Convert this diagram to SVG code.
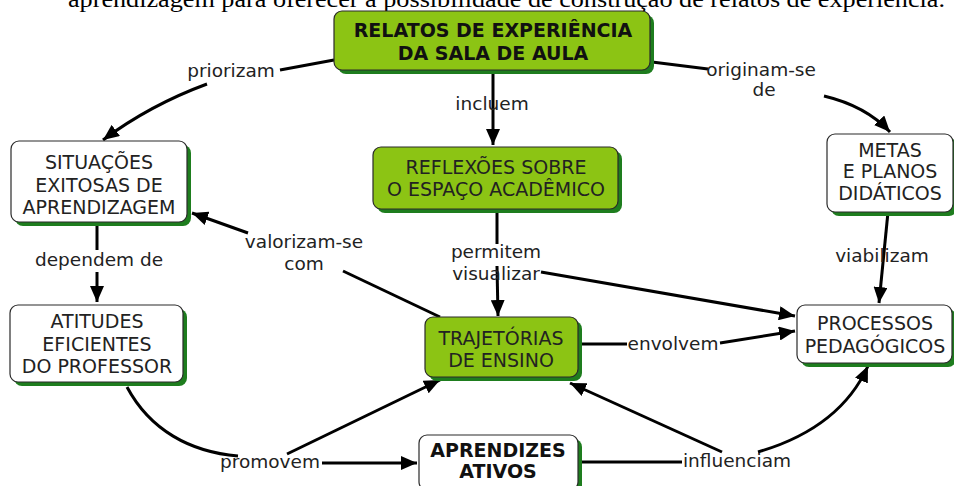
<svg xmlns="http://www.w3.org/2000/svg" width="954" height="486" viewBox="0 0 954 486">
<defs>
<style>
.shadow{fill:#1e7d1e}
.g{fill:#8cc414;stroke:#2a2a2a;stroke-width:1.2}
.w{fill:#ffffff;stroke:#2a2a2a;stroke-width:1.2}
.t{font-family:"DejaVu Sans",Verdana,sans-serif;font-size:19px;fill:#222;text-anchor:middle}
.b{font-family:"DejaVu Sans",Verdana,sans-serif;font-size:19px;font-weight:bold;fill:#111;text-anchor:middle}
.lbl{font-family:"DejaVu Sans",Verdana,sans-serif;font-size:18.5px;fill:#222;text-anchor:middle}
.c{fill:none;stroke:#000;stroke-width:3}
.a{marker-end:url(#arr)}
</style>
<marker id="arr" markerUnits="userSpaceOnUse" viewBox="0 0 16 14" markerWidth="16" markerHeight="14" refX="16" refY="7" orient="auto">
<path d="M0,0 L16,7 L0,14 z" fill="#000"/>
</marker>
</defs>
<rect width="954" height="486" fill="#fff"/>
<text x="68" y="7" font-family="'Liberation Serif','Times New Roman',serif" font-size="24" fill="#000" textLength="877" lengthAdjust="spacingAndGlyphs">aprendizagem para oferecer a possibilidade de construção de relatos de experiência.</text>

<g id="connectors">
<path class="c" d="M334,60 L280,70"/>
<path class="c a" d="M207,84 Q150,105 103,140"/>
<path class="c a" d="M493,70 L493,145"/>
<path class="c" d="M652,62 L708,69"/>
<path class="c a" d="M824,96 Q866,106 890,132"/>
<path class="c" d="M97,222 L97,250"/>
<path class="c a" d="M97,272 L97,302"/>
<path class="c" d="M497,210 L497,244"/>
<path class="c a" d="M497,266 L498,316"/>
<path class="c a" d="M541,272 L795,316"/>
<path class="c a" d="M248,233 L192,213"/>
<path class="c" d="M343,271 L440,317"/>
<path class="c" d="M578,344 L627,344"/>
<path class="c a" d="M720,343 L795,331"/>
<path class="c a" d="M888,212 L879,303"/>
<path class="c" d="M127,387 C150,430 190,452 238,456"/>
<path class="c a" d="M322,463 L417,463"/>
<path class="c a" d="M287,454 L440,380"/>
<path class="c" d="M578,462 L682,462"/>
<path class="c a" d="M722,452 L570,383"/>
<path class="c a" d="M758,452 Q840,428 868,366"/>
<text class="lbl" x="231" y="77">priorizam</text>
<text class="lbl" x="492" y="110">incluem</text>
<text class="lbl" x="761" y="76">originam-se</text>
<text class="lbl" x="764" y="96">de</text>
<text class="lbl" x="99" y="266">dependem de</text>
<text class="lbl" x="304" y="248">valorizam-se</text>
<text class="lbl" x="304" y="270">com</text>
<text class="lbl" x="496" y="258">permitem</text>
<text class="lbl" x="496" y="280">visualizar</text>
<text class="lbl" x="882" y="262">viabilizam</text>
<text class="lbl" x="673" y="350">envolvem</text>
<text class="lbl" x="270" y="468">promovem</text>
<text class="lbl" x="737" y="467">influenciam</text>
</g>

<g id="n-relatos">
<rect class="shadow" x="338" y="15" width="316" height="59" rx="8"/>
<rect class="g" x="334" y="11" width="316" height="59" rx="8"/>
<text class="b" x="493" y="37">RELATOS DE EXPERIÊNCIA</text>
<text class="b" x="493" y="60">DA SALA DE AULA</text>
</g>

<g id="n-reflexoes">
<rect class="shadow" x="377" y="151" width="245" height="62" rx="8"/>
<rect class="g" x="373" y="147" width="245" height="62" rx="8"/>
<text class="t" x="496" y="174">REFLEXÕES SOBRE</text>
<text class="t" x="496" y="196">O ESPAÇO ACADÊMICO</text>
</g>

<g id="n-situacoes">
<rect class="shadow" x="15" y="145" width="176" height="81" rx="8"/>
<rect class="w" x="11" y="141" width="176" height="81" rx="8"/>
<text class="t" x="99" y="169">SITUAÇÕES</text>
<text class="t" x="99" y="192">EXITOSAS DE</text>
<text class="t" x="99" y="214">APRENDIZAGEM</text>
</g>

<g id="n-atitudes">
<rect class="shadow" x="14" y="309" width="173" height="77" rx="8"/>
<rect class="w" x="10" y="305" width="173" height="77" rx="8"/>
<text class="t" x="97" y="328">ATITUDES</text>
<text class="t" x="97" y="351">EFICIENTES</text>
<text class="t" x="97" y="373">DO PROFESSOR</text>
</g>

<g id="n-trajetorias">
<rect class="shadow" x="429" y="321" width="153" height="60" rx="8"/>
<rect class="g" x="425" y="317" width="153" height="60" rx="8"/>
<text class="t" x="501" y="345">TRAJETÓRIAS</text>
<text class="t" x="501" y="367">DE ENSINO</text>
</g>

<g id="n-aprendizes">
<rect class="shadow" x="423" y="439" width="159" height="55" rx="8"/>
<rect class="w" x="419" y="435" width="159" height="55" rx="8"/>
<text class="b" x="498" y="457">APRENDIZES</text>
<text class="b" x="498" y="478">ATIVOS</text>
</g>

<g id="n-metas">
<rect class="shadow" x="831" y="138" width="126" height="78" rx="8"/>
<rect class="w" x="827" y="134" width="126" height="78" rx="8"/>
<text class="t" x="890" y="157">METAS</text>
<text class="t" x="890" y="178">E PLANOS</text>
<text class="t" x="890" y="200">DIDÁTICOS</text>
</g>

<g id="n-processos">
<rect class="shadow" x="801" y="309" width="155" height="58" rx="8"/>
<rect class="w" x="797" y="305" width="155" height="58" rx="8"/>
<text class="t" x="875" y="330">PROCESSOS</text>
<text class="t" x="875" y="353">PEDAGÓGICOS</text>
</g>
</svg>
